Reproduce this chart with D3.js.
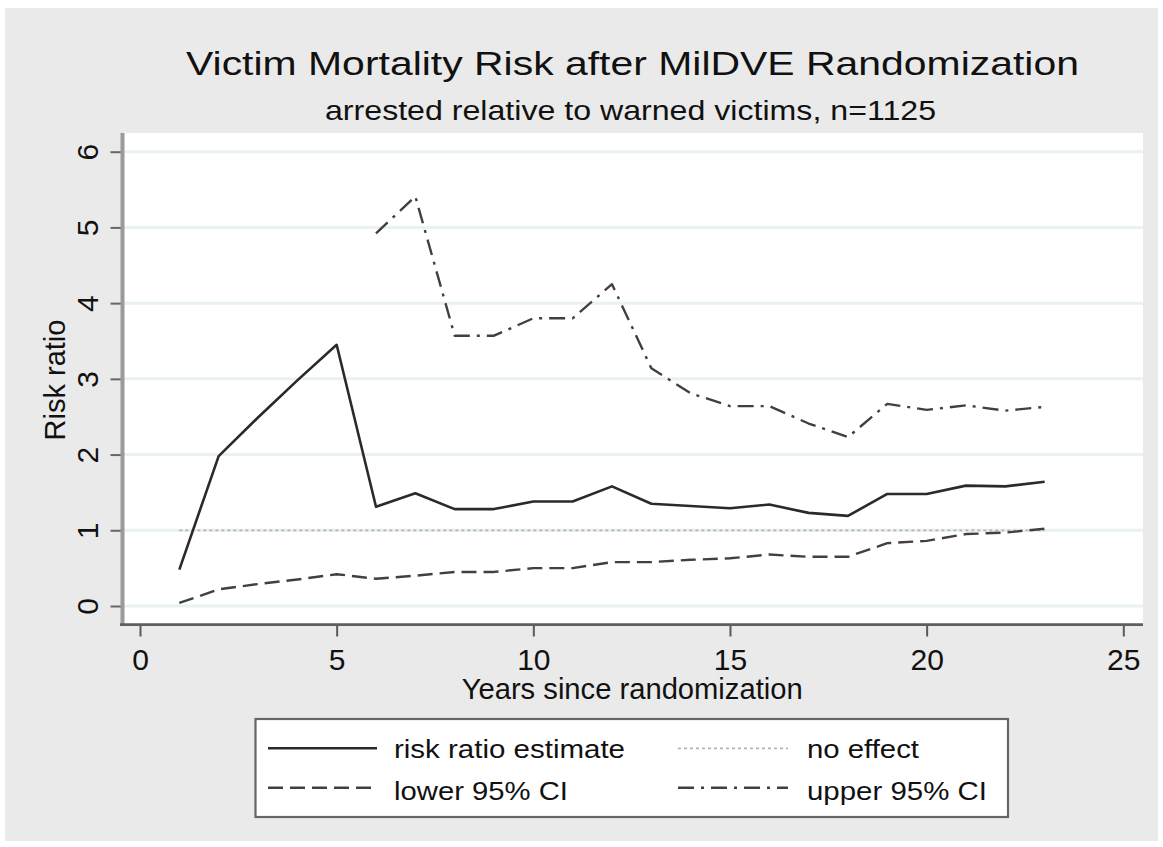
<!DOCTYPE html>
<html>
<head>
<meta charset="utf-8">
<script src="https://cdn.jsdelivr.net/npm/d3@7"></script>
<style>
  html, body { margin: 0; padding: 0; background: #ffffff; }
  svg { display: block; }
  text { font-family: "Liberation Sans", Arial, Helvetica, sans-serif; fill: #111; }
</style>
</head>
<body>
<svg id="chart" width="1163" height="847"></svg>
<script>
// Years since randomization
const years = [1, 2, 3, 4, 5, 6, 7, 8, 9, 10, 11, 12, 13, 14, 15, 16, 17, 18, 19, 20, 21, 22, 23];
// Risk ratio of arrested relative to warned victims
const riskRatio = [0.48, 1.98, 2.49, 2.98, 3.45, 1.31, 1.49, 1.28, 1.28, 1.38, 1.38, 1.58,
                   1.35, 1.32, 1.29, 1.34, 1.23, 1.19, 1.48, 1.48, 1.59, 1.58, 1.64];
const lowerCI = [0.04, 0.22, 0.29, 0.35, 0.42, 0.36, 0.40, 0.45, 0.45, 0.50, 0.50, 0.58,
                 0.58, 0.61, 0.63, 0.68, 0.65, 0.65, 0.83, 0.86, 0.95, 0.97, 1.02];
// Upper bound is undefined for the first five years
const upperCI = [null, null, null, null, null, 4.92, 5.41, 3.57, 3.57, 3.80, 3.80, 4.25,
                 3.14, 2.81, 2.64, 2.64, 2.41, 2.23, 2.67, 2.59, 2.65, 2.58, 2.63];
const noEffect = 1;

const xTicks = [0, 5, 10, 15, 20, 25];
const yTicks = [0, 1, 2, 3, 4, 5, 6];

const titleText = "Victim Mortality Risk after MilDVE Randomization";
const subtitleText = "arrested relative to warned victims, n=1125";
const xTitle = "Years since randomization";
const yTitle = "Risk ratio";
const legendLabels = ["risk ratio estimate", "no effect", "lower 95% CI", "upper 95% CI"];

// ---- styling of each series ----
const styles = {
  rr:    { stroke: "#2a2a2a", width: 2.6, dash: null },
  none:  { stroke: "#b4b4b4", width: 1.8, dash: "3,3" },
  lower: { stroke: "#404040", width: 2.4, dash: "15,7" },
  upper: { stroke: "#404040", width: 2.4, dash: "16,7,3,7" }
};

const svg = d3.select("#chart");

// outer panel
svg.append("rect").attr("x", 5).attr("y", 8).attr("width", 1153).attr("height", 833)
  .attr("fill", "#eaeaea");

const plot = { left: 122, right: 1143, top: 133, bottom: 625 };

const x = d3.scaleLinear().domain([0, 25]).range([140, 1123.3]);
const y = d3.scaleLinear().domain([0, 6]).range([606, 151.7]);

// plot region
svg.append("rect").attr("x", plot.left).attr("y", plot.top)
  .attr("width", plot.right - plot.left).attr("height", plot.bottom - plot.top)
  .attr("fill", "#ffffff");

// horizontal grid lines
svg.append("g").selectAll("line").data(yTicks).join("line")
  .attr("x1", plot.left + 2).attr("x2", plot.right)
  .attr("y1", d => y(d)).attr("y2", d => y(d))
  .attr("stroke", "#e9f1f1").attr("stroke-width", 3);

// series
const line = d3.line()
  .defined(d => d[1] != null)
  .x(d => x(d[0])).y(d => y(d[1]));

function drawSeries(values, st) {
  svg.append("path")
    .datum(years.map((yr, i) => [yr, values[i]]))
    .attr("d", line)
    .attr("fill", "none")
    .attr("stroke", st.stroke)
    .attr("stroke-width", st.width)
    .attr("stroke-dasharray", st.dash)
    .attr("stroke-linejoin", "round");
}

drawSeries(years.map(() => noEffect), styles.none);
drawSeries(lowerCI, styles.lower);
drawSeries(upperCI, styles.upper);
drawSeries(riskRatio, styles.rr);

// y axis
const yAxis = svg.append("g").attr("transform", "translate(121.5,0)")
  .call(d3.axisLeft(y).tickValues(yTicks).tickSize(11).tickFormat(d3.format("d")));
yAxis.select(".domain").remove();
yAxis.selectAll(".tick line").attr("stroke", "#666").attr("stroke-width", 2);
yAxis.selectAll(".tick text")
  .attr("x", 0).attr("y", 0).attr("dy", 0)
  .attr("text-anchor", "middle")
  .attr("transform", "translate(-23.2,0) rotate(-90)")
  .style("font-size", "30px").style("fill", "#111")
  .style("font-family", "'Liberation Sans', Arial, sans-serif");
svg.append("line").attr("x1", 122.5).attr("x2", 122.5)
  .attr("y1", plot.top).attr("y2", plot.bottom + 1)
  .attr("stroke", "#9a9a9a").attr("stroke-width", 4);

// x axis
const xAxis = svg.append("g").attr("transform", "translate(0,625.5)")
  .call(d3.axisBottom(x).tickValues(xTicks).tickSize(11).tickFormat(d3.format("d")));
xAxis.select(".domain").remove();
xAxis.selectAll(".tick line").attr("stroke", "#5a5a5a").attr("stroke-width", 2);
xAxis.selectAll(".tick text")
  .attr("y", 44).attr("dy", 0)
  .style("font-size", "30px").style("fill", "#111")
  .style("font-family", "'Liberation Sans', Arial, sans-serif");
svg.append("line").attr("x1", 120).attr("x2", plot.right)
  .attr("y1", 624.7).attr("y2", 624.7)
  .attr("stroke", "#5e5e5e").attr("stroke-width", 2.7);

// titles
svg.append("text").attr("x", 186).attr("y", 75)
  .style("font-size", "32.5px").attr("textLength", 893).attr("lengthAdjust", "spacingAndGlyphs")
  .text(titleText);
svg.append("text").attr("x", 325).attr("y", 120)
  .style("font-size", "27.5px").attr("textLength", 611).attr("lengthAdjust", "spacingAndGlyphs")
  .text(subtitleText);
svg.append("text").attr("x", 461.7).attr("y", 699.3)
  .style("font-size", "29px").attr("textLength", 341).attr("lengthAdjust", "spacingAndGlyphs")
  .text(xTitle);
svg.append("text").attr("text-anchor", "middle")
  .attr("transform", "translate(65,380) rotate(-90)")
  .style("font-size", "29px")
  .text(yTitle);

// legend
const legend = svg.append("g");
legend.append("rect").attr("x", 255.5).attr("y", 719).attr("width", 752.5).attr("height", 98)
  .attr("fill", "#ffffff").attr("stroke", "#666").attr("stroke-width", 2.2);

const legendItems = [
  { label: legendLabels[0], st: styles.rr,    col: 0, row: 0, w: 231 },
  { label: legendLabels[1], st: styles.none,  col: 1, row: 0, w: 112 },
  { label: legendLabels[2], st: styles.lower, col: 0, row: 1, w: 174 },
  { label: legendLabels[3], st: styles.upper, col: 1, row: 1, w: 180 }
];
const colSample = [[268, 377], [678, 788]];
const colText = [394, 807];
const rowLine = [748.3, 787.7];
const rowBase = [758.3, 800];

legendItems.forEach(it => {
  legend.append("line")
    .attr("x1", colSample[it.col][0]).attr("x2", colSample[it.col][1])
    .attr("y1", rowLine[it.row]).attr("y2", rowLine[it.row])
    .attr("stroke", it.st.stroke).attr("stroke-width", it.st.width)
    .attr("stroke-dasharray", it.st.dash);
  legend.append("text")
    .attr("x", colText[it.col]).attr("y", rowBase[it.row])
    .style("font-size", "25.5px")
    .attr("textLength", it.w).attr("lengthAdjust", "spacingAndGlyphs")
    .text(it.label);
});
</script>
</body>
</html>
